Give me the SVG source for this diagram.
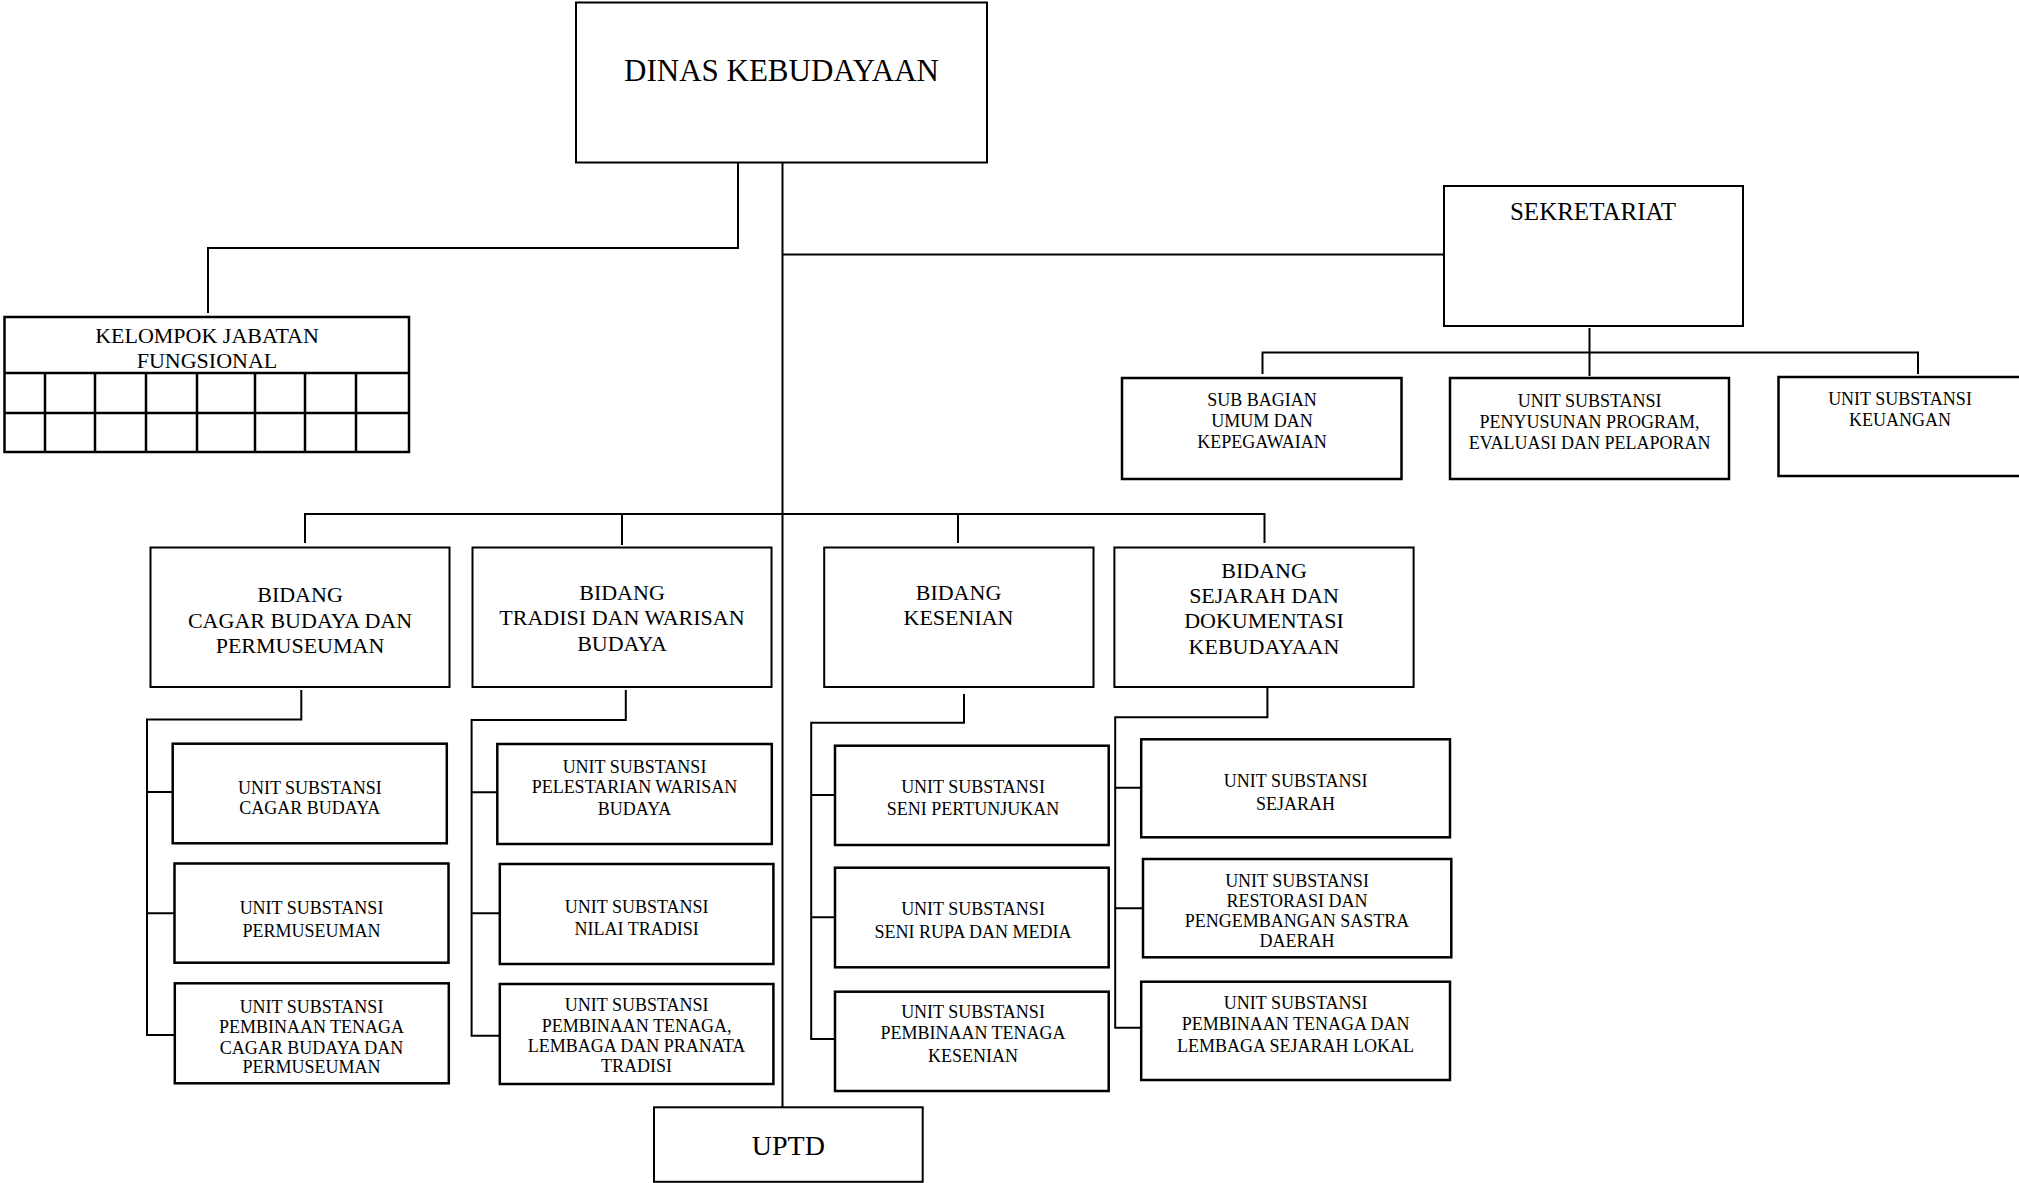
<svg xmlns="http://www.w3.org/2000/svg" width="2019" height="1183" viewBox="0 0 2019 1183">
<style>
.box{fill:#fff;stroke:#000;stroke-width:2}
.ubox{fill:#fff;stroke:#000;stroke-width:2.5}
.t{font-family:"Liberation Serif","Times New Roman",serif;fill:#000;text-anchor:middle}
.s18{font-size:18px}
.s22{font-size:22px}
.conn path{fill:none;stroke:#000;stroke-width:2}
</style>
<rect width="2019" height="1183" fill="#fff"/>
<g class="conn" id="connectors">
<path d="M738,162 V248 H208 V313"/>
<path d="M782.5,162 V1107"/>
<path d="M782.5,254.5 H1444"/>
<path d="M1589.5,328 V376"/>
<path d="M1262.5,374 V352.5 H1918 V374"/>
<path d="M305,543 V514 H1264.5 V543"/>
<path d="M622,514 V545"/>
<path d="M958,514 V543"/>
<path d="M301.3,690 V719.5 H147 V1035 H174.8"/>
<path d="M147,792 H172.7 M147,913.3 H174.5"/>
<path d="M625.8,690 V720 H471.6 V1035.7 H499.8"/>
<path d="M471.6,792.3 H497.3 M471.6,913.3 H499.8"/>
<path d="M964,694 V722.7 H811.2 V1039 H835"/>
<path d="M811.2,795 H835 M811.2,917.3 H835"/>
<path d="M1267.4,688 V717.3 H1115.2 V1027.7 H1141.2"/>
<path d="M1115.2,787.7 H1141.2 M1115.2,908.3 H1143"/>
</g>
<g id="dinas">
<rect class="box" x="576" y="2.5" width="411" height="160"/>
<text class="t" x="781.5" y="81" font-size="31">DINAS KEBUDAYAAN</text>
</g>
<g id="kjf">
<rect class="ubox" x="4.5" y="317" width="404.5" height="135"/>
<path d="M4.5,373 H409 M4.5,413 H409 M45,373 V452 M95,373 V452 M146,373 V452 M197,373 V452 M255,373 V452 M305,373 V452 M356,373 V452" stroke="#000" stroke-width="2.5" fill="none"/>
<text class="t s22" x="207" y="343">KELOMPOK JABATAN</text>
<text class="t s22" x="207" y="368">FUNGSIONAL</text>
</g>
<g id="sekretariat">
<rect class="box" x="1444" y="186" width="299" height="140"/>
<text class="t" x="1593" y="220" font-size="25">SEKRETARIAT</text>
</g>
<g id="subbag-umum">
<rect class="ubox" x="1122" y="378" width="279.5" height="101"/>
<text class="t s18" x="1262" y="406">SUB BAGIAN</text>
<text class="t s18" x="1262" y="426.5">UMUM DAN</text>
<text class="t s18" x="1262" y="448">KEPEGAWAIAN</text>
</g>
<g id="us-program">
<rect class="ubox" x="1450" y="378" width="279" height="101"/>
<text class="t s18" x="1589.6" y="406.5">UNIT SUBSTANSI</text>
<text class="t s18" x="1589.6" y="428">PENYUSUNAN PROGRAM,</text>
<text class="t s18" x="1589.6" y="449">EVALUASI DAN PELAPORAN</text>
</g>
<g id="us-keuangan">
<rect class="ubox" x="1778.5" y="377" width="245" height="99"/>
<text class="t s18" x="1900" y="405">UNIT SUBSTANSI</text>
<text class="t s18" x="1900" y="425.5">KEUANGAN</text>
</g>
<g id="bidang-cagar">
<rect class="box" x="150.5" y="547.5" width="299" height="139.5"/>
<text class="t s22" x="300" y="602.3">BIDANG</text>
<text class="t s22" x="300" y="628.3">CAGAR BUDAYA DAN</text>
<text class="t s22" x="300" y="652.7">PERMUSEUMAN</text>
</g>
<g id="bidang-tradisi">
<rect class="box" x="472.5" y="547.5" width="299" height="139.5"/>
<text class="t s22" x="622" y="600">BIDANG</text>
<text class="t s22" x="622" y="625">TRADISI DAN WARISAN</text>
<text class="t s22" x="622" y="650.7">BUDAYA</text>
</g>
<g id="bidang-kesenian">
<rect class="box" x="824.2" y="547.5" width="269.3" height="139.5"/>
<text class="t s22" x="958.5" y="600">BIDANG</text>
<text class="t s22" x="958.5" y="625">KESENIAN</text>
</g>
<g id="bidang-sejarah">
<rect class="box" x="1114.4" y="547.5" width="299.2" height="139.5"/>
<text class="t s22" x="1264" y="578.3">BIDANG</text>
<text class="t s22" x="1264" y="602.7">SEJARAH DAN</text>
<text class="t s22" x="1264" y="628.3">DOKUMENTASI</text>
<text class="t s22" x="1264" y="654">KEBUDAYAAN</text>
</g>
<g id="us-cagar-budaya">
<rect class="ubox" x="172.7" y="743.7" width="274.1" height="99.6"/>
<text class="t s18" x="309.8" y="794">UNIT SUBSTANSI</text>
<text class="t s18" x="309.8" y="814">CAGAR BUDAYA</text>
</g>
<g id="us-permuseuman">
<rect class="ubox" x="174.5" y="863.5" width="274" height="99.2"/>
<text class="t s18" x="311.5" y="913.7">UNIT SUBSTANSI</text>
<text class="t s18" x="311.5" y="936.7">PERMUSEUMAN</text>
</g>
<g id="us-pembinaan-cagar">
<rect class="ubox" x="174.8" y="983.3" width="274" height="100"/>
<text class="t s18" x="311.5" y="1012.7">UNIT SUBSTANSI</text>
<text class="t s18" x="311.5" y="1033.3">PEMBINAAN TENAGA</text>
<text class="t s18" x="311.5" y="1053.7">CAGAR BUDAYA DAN</text>
<text class="t s18" x="311.5" y="1073.3">PERMUSEUMAN</text>
</g>
<g id="us-pelestarian">
<rect class="ubox" x="497.3" y="744" width="274.5" height="100"/>
<text class="t s18" x="634.5" y="772.7">UNIT SUBSTANSI</text>
<text class="t s18" x="634.5" y="793.3">PELESTARIAN WARISAN</text>
<text class="t s18" x="634.5" y="815">BUDAYA</text>
</g>
<g id="us-nilai-tradisi">
<rect class="ubox" x="499.8" y="864" width="273.6" height="100"/>
<text class="t s18" x="636.6" y="913.3">UNIT SUBSTANSI</text>
<text class="t s18" x="636.6" y="935.3">NILAI TRADISI</text>
</g>
<g id="us-pembinaan-tradisi">
<rect class="ubox" x="499.8" y="984" width="273.6" height="100"/>
<text class="t s18" x="636.6" y="1011">UNIT SUBSTANSI</text>
<text class="t s18" x="636.6" y="1031.7">PEMBINAAN TENAGA,</text>
<text class="t s18" x="636.6" y="1051.7">LEMBAGA DAN PRANATA</text>
<text class="t s18" x="636.6" y="1072">TRADISI</text>
</g>
<g id="us-seni-pertunjukan">
<rect class="ubox" x="835" y="745.7" width="273.7" height="99.3"/>
<text class="t s18" x="973" y="793.3">UNIT SUBSTANSI</text>
<text class="t s18" x="973" y="815">SENI PERTUNJUKAN</text>
</g>
<g id="us-seni-rupa">
<rect class="ubox" x="835" y="867.7" width="273.7" height="99.6"/>
<text class="t s18" x="973" y="915">UNIT SUBSTANSI</text>
<text class="t s18" x="973" y="938.3">SENI RUPA DAN MEDIA</text>
</g>
<g id="us-pembinaan-kesenian">
<rect class="ubox" x="835" y="991.7" width="273.7" height="99.3"/>
<text class="t s18" x="973" y="1017.7">UNIT SUBSTANSI</text>
<text class="t s18" x="973" y="1039">PEMBINAAN TENAGA</text>
<text class="t s18" x="973" y="1061.7">KESENIAN</text>
</g>
<g id="us-sejarah">
<rect class="ubox" x="1141.2" y="739.3" width="308.8" height="98"/>
<text class="t s18" x="1295.6" y="787.3">UNIT SUBSTANSI</text>
<text class="t s18" x="1295.6" y="810">SEJARAH</text>
</g>
<g id="us-restorasi">
<rect class="ubox" x="1143" y="859" width="308.3" height="98.3"/>
<text class="t s18" x="1297" y="886.7">UNIT SUBSTANSI</text>
<text class="t s18" x="1297" y="906.7">RESTORASI DAN</text>
<text class="t s18" x="1297" y="926.7">PENGEMBANGAN SASTRA</text>
<text class="t s18" x="1297" y="946.7">DAERAH</text>
</g>
<g id="us-pembinaan-sejarah">
<rect class="ubox" x="1141.2" y="981.7" width="308.8" height="98.3"/>
<text class="t s18" x="1295.6" y="1009.3">UNIT SUBSTANSI</text>
<text class="t s18" x="1295.6" y="1030">PEMBINAAN TENAGA DAN</text>
<text class="t s18" x="1295.6" y="1051.7">LEMBAGA SEJARAH LOKAL</text>
</g>
<g id="uptd">
<rect class="box" x="654" y="1107.3" width="268.7" height="74.5"/>
<text class="t" x="788.3" y="1154.5" font-size="28">UPTD</text>
</g>
</svg>
